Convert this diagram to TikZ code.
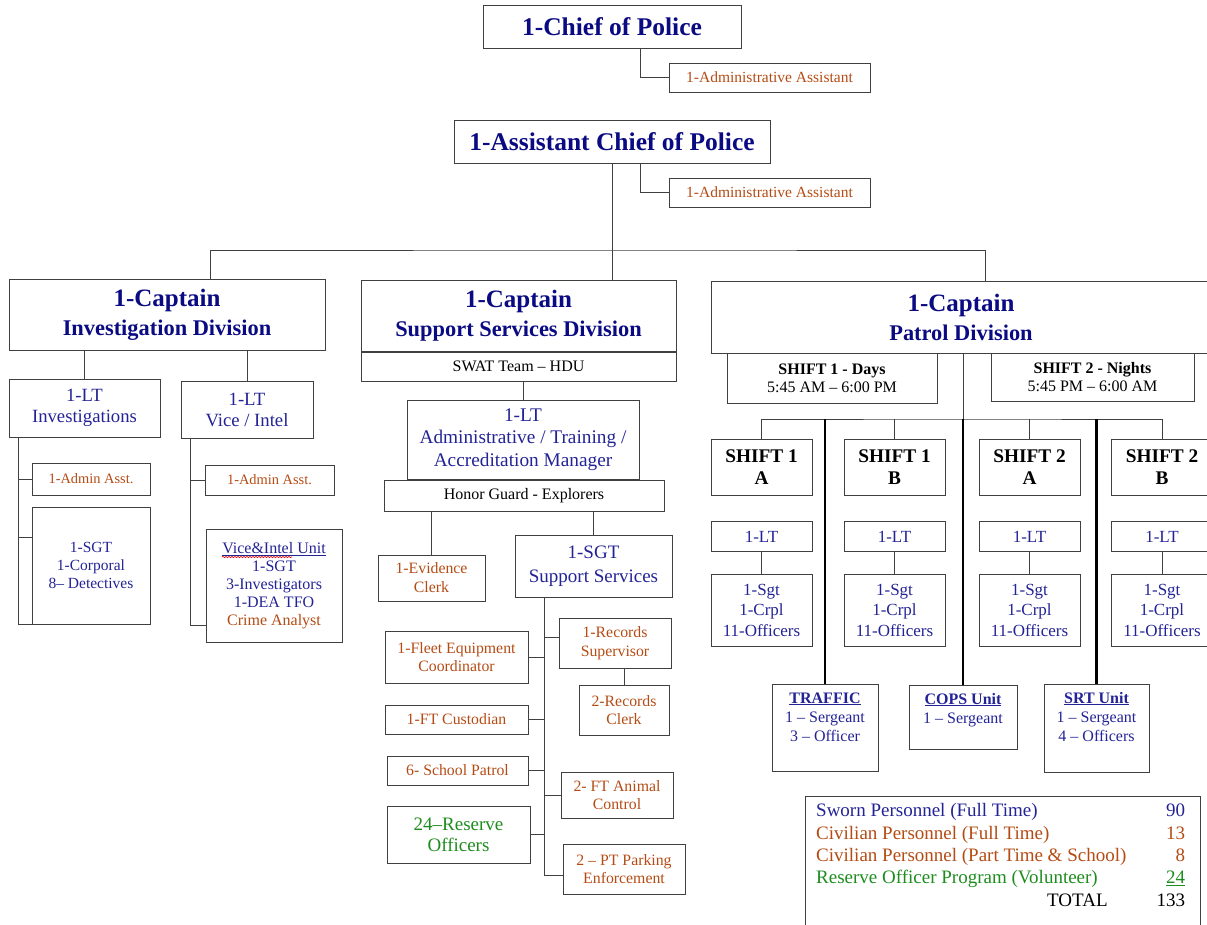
\documentclass[tikz,border=0pt]{standalone}
\usepackage{fontspec}
\setmainfont{Liberation Serif}
\usepackage{xcolor}
\usetikzlibrary{positioning,decorations.pathmorphing}
\definecolor{navy}{RGB}{10,10,130}
\definecolor{ltblue}{RGB}{35,35,150}
\definecolor{civbrown}{RGB}{180,75,20}
\definecolor{resgreen}{RGB}{30,140,30}
\definecolor{boxgray}{RGB}{64,64,64}
\tikzstyle{box} = [rectangle, draw=boxgray, line width=1pt, align=center, inner sep=1pt]
\tikzstyle{headbox} = [box, text=navy, font=\bfseries\fontsize{25.5}{29}\selectfont, minimum height=43pt]
\tikzstyle{capbox} = [box, text=navy, font=\bfseries\fontsize{25}{29}\selectfont, minimum height=71pt]
\tikzstyle{civbox} = [box, text=civbrown, font=\fontsize{15.8}{18.5}\selectfont]
\tikzstyle{aidebox} = [civbox, font=\fontsize{15.5}{18}\selectfont, minimum width=201pt, minimum height=29pt]
\tikzstyle{swornbox} = [box, text=ltblue, font=\fontsize{18.7}{21}\selectfont]
\tikzstyle{plainbox} = [box, font=\fontsize{16}{18}\selectfont]
\tikzstyle{shiftbox} = [box, font=\bfseries\fontsize{19.3}{22}\selectfont, minimum width=101pt, minimum height=56pt]
\tikzstyle{ltbox} = [box, text=ltblue, font=\fontsize{17}{20.5}\selectfont, minimum width=101pt, minimum height=30pt]
\tikzstyle{squadbox} = [ltbox, minimum height=72pt]
\tikzstyle{unitbox} = [box, text=ltblue, font=\fontsize{16}{19}\selectfont, inner sep=0pt]
\tikzstyle{line} = [draw, boxgray, line width=1pt]
\tikzstyle{heavyline} = [draw, black, line width=2.4pt]
\tikzstyle{spellmark} = [draw, red, line width=0.6pt, decorate, decoration={snake, amplitude=0.7pt, segment length=3pt}]
\newcommand{\divline}[1]{{\fontsize{22.4}{26}\selectfont #1}}
\newcommand{\unitlines}[2]{\parbox[c][#1][t]{104pt}{\centering\rule{0pt}{19pt}#2}}

\begin{document}
\begin{tikzpicture}[x=1pt, y=-1pt]
\clip (0,0) rectangle (1207,924);

% chief and assistant chief
\node [headbox, minimum width=258pt] (chief) at (612,26.5) {1-Chief of Police};
\node [aidebox] (chiefAide) at (769.5,77.5) {1-Administrative Assistant};
\node [headbox, minimum width=316pt] (asst) at (612,141.5) {1-Assistant Chief of Police};
\node [aidebox] (asstAide) at (769.5,192.5) {1-Administrative Assistant};
\path [line] ([xshift=28pt]chief.south) |- (chiefAide.west);
\path [line] ([xshift=28pt]asst.south) |- (asstAide.west);

% divisions
\node [capbox, minimum width=316pt] (capInv) at (167,314.5) {1-Captain\\\divline{Investigation Division}};
\node [capbox, minimum width=315pt] (capSup) at (518.5,315.5) {1-Captain\\\divline{Support Services Division}};
\node [capbox, minimum width=500pt, minimum height=72pt] (capPat) at (961,317) {1-Captain\\\divline{Patrol Division}};
\coordinate (divBus) at (612,250);
\path [line] (asst.south) -- (divBus);
\path [line] ([xshift=43pt]capInv.north) |- (divBus) -| ([xshift=24pt]capPat.north);
\path [line] ([xshift=93.5pt]capSup.north) -- (divBus);

% investigation division
\node [swornbox, minimum width=151pt, minimum height=58pt] (ltInv) at (84.5,408) {1-LT\\Investigations};
\node [swornbox, minimum width=132pt, minimum height=57pt] (ltVice) at (247,409.5) {1-LT\\Vice / Intel};
\node [civbox, font=\fontsize{14.4}{18}\selectfont, minimum width=118pt, minimum height=32pt] (adminInv) at (91,479) {1-Admin Asst.};
\node [swornbox, font=\fontsize{15.5}{18}\selectfont, minimum width=118pt, minimum height=117pt] (sgtInv) at (91,565.5) {1-SGT\\1-Corporal\\8– Detectives};
\node [civbox, font=\fontsize{14.4}{18}\selectfont, minimum width=129pt, minimum height=30pt] (adminVice) at (269.5,480) {1-Admin Asst.};
\node [swornbox, font=\fontsize{16}{18}\selectfont, minimum width=136pt, minimum height=113pt] (viceUnit) at (274,585.5) {\underline{Vice\&Intel Unit}\\1-SGT\\3-Investigators\\1-DEA TFO\\\textcolor{civbrown}{Crime Analyst}};
\path [spellmark] ([xshift=-52pt, yshift=28.5pt]viceUnit.center) -- ++(70,0);
\path [line] (ltInv.north) -- (ltInv.north |- capInv.south);
\path [line] (ltVice.north) -- (ltVice.north |- capInv.south);
\coordinate (invEnd) at (18,625);
\path [line] (ltInv.south -| invEnd) -- (invEnd);
\path [line] (adminInv.west) -- (adminInv.west -| invEnd);
\path [line] ([yshift=28.5pt]sgtInv.west) -- ++(-14,0);
\path [line] (sgtInv.south west) -- (sgtInv.south west -| invEnd);
\coordinate (viceEnd) at (190,625);
\path [line] (ltVice.south -| viceEnd) -- (viceEnd) -- (viceEnd -| viceUnit.west);
\path [line] (adminVice.west) -- (adminVice.west -| viceEnd);

% support services division
\node [plainbox, minimum width=315pt, minimum height=29pt, anchor=north] (swat) at (capSup.south) {SWAT Team – HDU};
\node [swornbox, font=\fontsize{19.3}{22.5}\selectfont, minimum width=232pt, minimum height=79pt] (ltAdm) at (523,439.5) {1-LT\\Administrative / Training /\\Accreditation Manager};
\node [plainbox, minimum width=280pt, minimum height=31pt, anchor=north] (honor) at (524,480) {Honor Guard - Explorers};
\node [civbox, font=\fontsize{15.8}{19}\selectfont, minimum width=107pt, minimum height=46pt] (evid) at (431.5,578) {1-Evidence\\Clerk};
\node [swornbox, font=\fontsize{19}{24}\selectfont, minimum width=157pt, minimum height=62pt] (sgtSup) at (593.5,566) {1-SGT\\Support Services};
\node [civbox, minimum width=143pt, minimum height=52pt] (fleet) at (456.5,657) {1-Fleet Equipment\\Coordinator};
\node [civbox, minimum width=143pt, minimum height=29pt] (cust) at (456.5,719.5) {1-FT Custodian};
\node [civbox, minimum width=141pt, minimum height=29pt] (school) at (457.5,770.5) {6- School Patrol};
\node [civbox, text=resgreen, font=\fontsize{19}{21}\selectfont, minimum width=143pt, minimum height=57pt] (reserve) at (458.5,834.5) {24–Reserve\\Officers};
\node [civbox, minimum width=112pt, minimum height=50pt] (recSup) at (615,643) {1-Records\\Supervisor};
\node [civbox, minimum width=90pt, minimum height=50pt] (recClerk) at (624,710) {2-Records\\Clerk};
\node [civbox, minimum width=112pt, minimum height=46pt] (animal) at (617,795) {2- FT Animal\\Control};
\node [civbox, minimum width=122pt, minimum height=50pt] (parking) at (624,869) {2 – PT Parking\\Enforcement};
\path [line] (ltAdm.north) -- (ltAdm.north |- swat.south);
\path [line] (evid.north) -- (evid.north |- honor.south);
\path [line] (sgtSup.north) -- (sgtSup.north |- honor.south);
\coordinate (supEnd) at (544,875);
\path [line] (sgtSup.south -| supEnd) -- (supEnd) -- (supEnd -| parking.west);
\foreach \b in {fleet, cust, school, reserve}
  \path [line] (\b.east) -- (\b.east -| supEnd);
\path [line] ([yshift=6pt]recSup.west) -- ++(-15,0);
\path [line] (animal.west) -- (animal.west -| supEnd);
\path [line] (recClerk.north) -- (recClerk.north |- recSup.south);

% patrol division
\node [plainbox, minimum width=210pt, minimum height=50pt] (days) at (832,378) {\textbf{SHIFT 1 - Days}\\5:45 AM – 6:00 PM};
\node [plainbox, minimum width=203pt, minimum height=48pt] (nights) at (1092.5,377) {\textbf{SHIFT 2 - Nights}\\5:45 PM – 6:00 AM};
\foreach \col/\x/\sh/\ab in {s1a/761.5/1/A, s1b/894.5/1/B, s2a/1029.5/2/A, s2b/1162/2/B} {
  \node [shiftbox] (\col) at (\x,467) {SHIFT \sh\\\ab};
  \node [ltbox] (\col lt) at (\x,536.5) {1-LT};
  \node [squadbox] (\col sq) at (\x,610) {1-Sgt\\1-Crpl\\11-Officers};
  \path [line] (\col lt) -- (\col sq);
}
\node [unitbox, minimum width=106pt, minimum height=87pt] (traffic) at (825,727.5) {\unitlines{87pt}{\underline{\textbf{TRAFFIC}}\\1 – Sergeant\\3 – Officer}};
\node [unitbox, minimum width=108pt, minimum height=64pt] (cops) at (963,717) {\unitlines{64pt}{\underline{\textbf{COPS Unit}}\\1 – Sergeant}};
\node [unitbox, minimum width=105pt, minimum height=88pt] (srt) at (1096.5,728) {\unitlines{88pt}{\underline{\textbf{SRT Unit}}\\1 – Sergeant\\4 – Officers}};
\coordinate (patBus) at (963,419);
\path [line] (patBus |- capPat.south) -- (patBus);
\path [line] (s1a.north) |- (patBus) -| (s2b.north);
\path [line] (s1b.north) -- (s1b.north |- patBus);
\path [line] (s2a.north) -- (s2a.north |- patBus);
\path [heavyline] (traffic.north) -- (traffic.north |- patBus);
\path [heavyline] (cops.north) -- (patBus);
\path [heavyline] (srt.north) -- (srt.north |- patBus);

% personnel totals
\path [line] (805,796) rectangle (1200,940);
\node [anchor=north west, inner sep=0pt, font=\fontsize{19}{22.3}\selectfont] (totals) at (816,801) {%
\begin{tabular*}{369pt}{@{}l@{\extracolsep{\fill}}r@{}}
\textcolor{ltblue}{Sworn Personnel (Full Time)} & \textcolor{ltblue}{90}\\
\textcolor{civbrown}{Civilian Personnel (Full Time)} & \textcolor{civbrown}{13}\\
\textcolor{civbrown}{Civilian Personnel (Part Time \& School)} & \textcolor{civbrown}{8}\\
\textcolor{resgreen}{Reserve Officer Program (Volunteer)} & \textcolor{resgreen}{\underline{24}}\\
\hspace{231pt}TOTAL & 133
\end{tabular*}};
\end{tikzpicture}
\end{document}
